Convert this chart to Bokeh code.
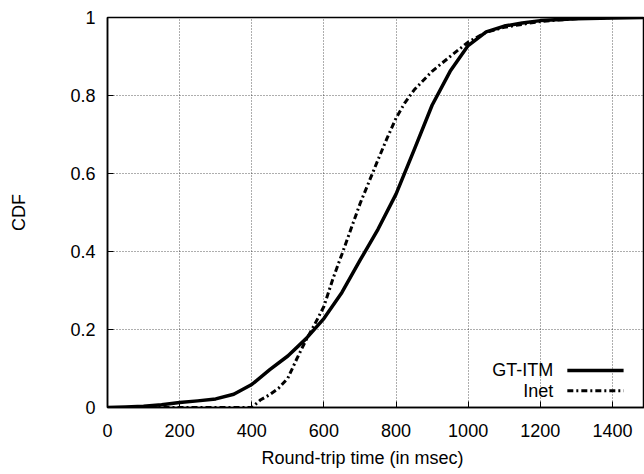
from bokeh.plotting import figure
from bokeh.models import Range1d, FixedTicker, Label, Title
from bokeh.embed import file_html
from bokeh.resources import INLINE

# CDF of round-trip times (msec)
gt_itm_x = [0, 50, 100, 150, 200, 250, 300, 350, 400, 450, 500, 550, 600, 650, 700,
            750, 800, 850, 900, 950, 1000, 1050, 1100, 1150, 1200, 1300, 1400, 1500]
gt_itm_y = [0.0, 0.001, 0.003, 0.007, 0.013, 0.017, 0.022, 0.034, 0.059, 0.097, 0.132,
            0.176, 0.228, 0.295, 0.377, 0.457, 0.547, 0.66, 0.775, 0.862, 0.928, 0.963,
            0.978, 0.986, 0.992, 0.997, 0.999, 1.0]

inet_x = [0, 100, 200, 300, 400, 425, 450, 475, 500, 525, 550, 575, 600, 625, 650, 700,
          750, 775, 800, 825, 850, 900, 950, 1000, 1050, 1100, 1200, 1300, 1400, 1500]
inet_y = [0.0, 0.0, 0.0, 0.0, 0.0, 0.02, 0.033, 0.05, 0.075, 0.125, 0.172, 0.214,
          0.259, 0.33, 0.393, 0.522, 0.635, 0.69, 0.742, 0.782, 0.814, 0.862, 0.9,
          0.937, 0.962, 0.975, 0.99, 0.997, 1.0, 1.0]

x_ticks = [0, 200, 400, 600, 800, 1000, 1200, 1400]
y_ticks = [0, 0.2, 0.4, 0.6, 0.8, 1]
y_tick_labels = {0: "0", 0.2: "0.2", 0.4: "0.4", 0.6: "0.6", 0.8: "0.8", 1: "1"}

FONT = "Liberation Sans"
FS = "18px"

p = figure(width=644, height=474, output_backend="svg", toolbar_location=None,
           x_range=Range1d(0, 1489), y_range=Range1d(0, 1),
           min_border_left=107, min_border_top=17, min_border_right=0, min_border_bottom=66)

p.background_fill_color = "white"
p.border_fill_color = "white"
p.outline_line_color = "black"
p.outline_line_width = 1.5

# grid
for g in (p.xgrid, p.ygrid):
    g.grid_line_color = "black"
    g.grid_line_alpha = 0.8
    g.grid_line_dash = "1 2"
    g.grid_line_width = 0.8
p.xgrid.ticker = FixedTicker(ticks=x_ticks)
p.ygrid.ticker = FixedTicker(ticks=y_ticks)

# axes
p.xaxis.ticker = FixedTicker(ticks=x_ticks)
p.yaxis.ticker = FixedTicker(ticks=y_ticks)
p.yaxis.major_label_overrides = y_tick_labels
for ax in (p.xaxis, p.yaxis):
    ax.major_tick_in = 6
    ax.major_tick_out = 0
    ax.minor_tick_line_color = None
    ax.axis_line_color = "black"
    ax.axis_line_width = 1.5
    ax.major_tick_line_color = "black"
    ax.major_label_text_font = FONT
    ax.major_label_text_font_size = FS
    ax.major_label_text_color = "black"
    ax.axis_label_text_font = FONT
    ax.axis_label_text_font_size = FS
    ax.axis_label_text_font_style = "normal"
    ax.axis_label_text_color = "black"
p.xaxis.major_label_standoff = 16
p.yaxis.major_label_standoff = 12
p.yaxis.axis_label = "CDF"
p.yaxis.axis_label_standoff = 38

# x title, a bit left of the frame centre as in the original
p.add_layout(Title(text="Round-trip time (in msec)", align="left", offset=154,
                   standoff=13, text_font=FONT, text_font_size=FS,
                   text_font_style="normal", text_color="black"), "below")

# curves
p.line(gt_itm_x, gt_itm_y, line_color="black", line_width=3.5, line_join="round")
p.line(inet_x, inet_y, line_color="black", line_width=3, line_dash="6 3 2 3")

# legend (gnuplot style: text then sample)
legend_names = ["GT-ITM", "Inet"]
legend_y = [0.095, 0.043]
legend_dash = ["solid", "6 3 2 3"]
legend_width = [3.5, 3]
for name, ly, dash, lw in zip(legend_names, legend_y, legend_dash, legend_width):
    p.add_layout(Label(x=1236, y=ly, text=name, text_align="right",
                       text_baseline="middle", text_font=FONT, text_font_size=FS,
                       text_color="black"))
    p.line([1275, 1431], [ly, ly], line_color="black", line_width=lw, line_dash=dash)

open("out.html", "w").write(file_html(p, INLINE))
